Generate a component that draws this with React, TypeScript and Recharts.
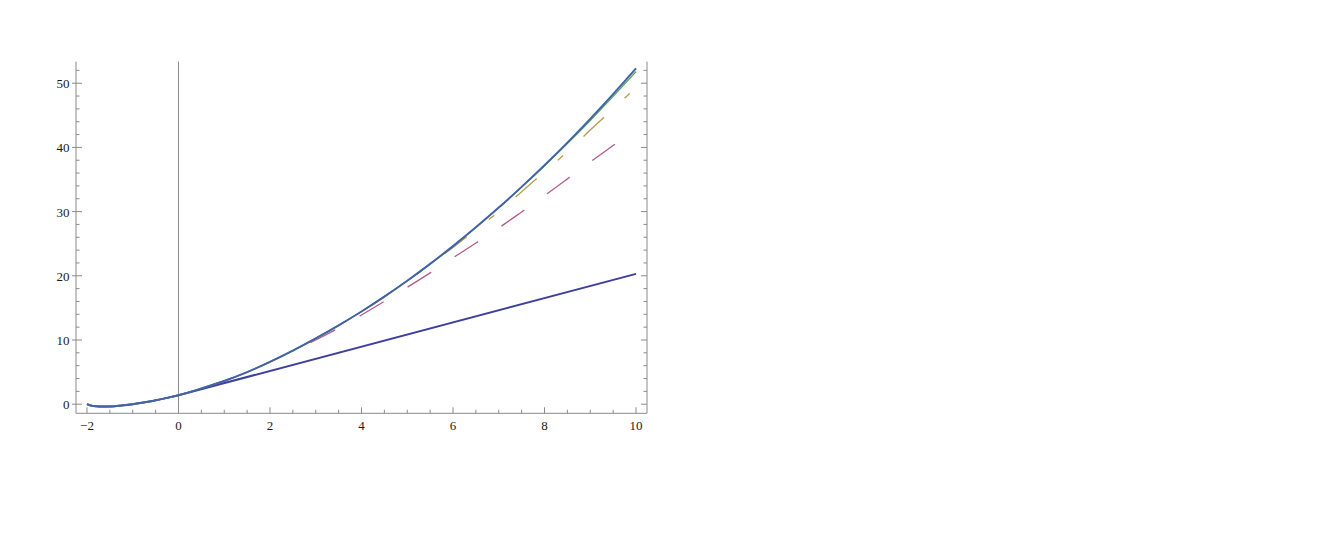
import React from 'react';
import { LineChart, Line, XAxis, YAxis, ReferenceLine } from 'recharts';

// x grid on which the curves were read
const xValues = [
  -2, -1.9, -1.8, -1.7, -1.6, -1.5, -1.4, -1.3, -1.2, -1.1, -1, -0.8, -0.6, -0.4, -0.2, 0,
  0.5, 1, 1.5, 2, 2.5, 3, 3.5, 4, 4.5, 5, 5.5, 6, 6.5, 7, 7.5, 8, 8.5, 9, 9.5, 10,
];

// exact curve (drawn on top)
const exactValues = [
  0, -0.23, -0.32, -0.36, -0.37, -0.35, -0.31, -0.25, -0.18, -0.09, 0.0, 0.22, 0.47, 0.75, 1.06, 1.4,
  2.45, 3.62, 5.0, 6.6, 8.35, 10.25, 12.28, 14.44, 16.75, 19.22, 21.85, 24.62, 27.55, 30.62, 33.85, 37.22, 40.75, 44.45, 48.3, 52.3,
];

// first-order approximation (straight after x = 0)
const order1Values = [
  0, -0.23, -0.32, -0.36, -0.37, -0.35, -0.31, -0.25, -0.18, -0.09, 0.0, 0.22, 0.47, 0.75, 1.06, 1.4,
  null, null, null, null, null, null, null, null, null, null, null, null, null, null, null, null, null, null, null, 20.3,
];

// second-order approximation
const order2Values = [
  0, -0.23, -0.32, -0.36, -0.37, -0.35, -0.31, -0.25, -0.18, -0.09, 0.0, 0.22, 0.47, 0.75, 1.06, 1.4,
  2.45, 3.62, 5.0, 6.6, 8.3, 10.0, 11.85, 13.9, 16.02, 18.2, 20.45, 22.8, 25.1, 27.45, 29.95, 32.5, 35.1, 37.72, 40.3, 42.85,
];

// third-order approximation
const order3Values = [
  0, -0.23, -0.32, -0.36, -0.37, -0.35, -0.31, -0.25, -0.18, -0.09, 0.0, 0.22, 0.47, 0.75, 1.06, 1.4,
  2.45, 3.62, 5.0, 6.6, 8.35, 10.25, 12.28, 14.44, 16.75, 19.2, 21.75, 24.42, 27.18, 30.0, 33.1, 36.2, 39.35, 42.7, 46.0, 49.3,
];

// fourth-order approximation
const order4Values = [
  0, -0.23, -0.32, -0.36, -0.37, -0.35, -0.31, -0.25, -0.18, -0.09, 0.0, 0.22, 0.47, 0.75, 1.06, 1.4,
  2.45, 3.62, 5.0, 6.6, 8.35, 10.25, 12.28, 14.44, 16.75, 19.22, 21.85, 24.62, 27.55, 30.62, 33.85, 37.15, 40.6, 44.2, 47.95, 51.8,
];

const xMajorTicks = [-2, 0, 2, 4, 6, 8, 10];
const xAllTicks = [-2, -1.5, -1, -0.5, 0, 0.5, 1, 1.5, 2, 2.5, 3, 3.5, 4, 4.5, 5, 5.5, 6, 6.5, 7, 7.5, 8, 8.5, 9, 9.5, 10];
const yMajorTicks = [0, 10, 20, 30, 40, 50];
const yAllTicks = [0, 2, 4, 6, 8, 10, 12, 14, 16, 18, 20, 22, 24, 26, 28, 30, 32, 34, 36, 38, 40, 42, 44, 46, 48, 50, 52];

const data = xValues.map((x, i) => ({
  x,
  exact: exactValues[i],
  o1: order1Values[i],
  o2: order2Values[i],
  o3: order3Values[i],
  o4: order4Values[i],
}));

const frameColor = '#8a8a8a';
const labelColor = '#1a1a1a';
const fontFamily = '"Liberation Serif", "Times New Roman", serif';
const MAJOR = 6;
const MINOR = 3.5;

const fmt = (v: number) => (v < 0 ? '\u2212' + Math.abs(v) : String(v));

const BottomTick = (props: any) => {
  const { x, y, payload } = props;
  const major = xMajorTicks.includes(payload.value);
  return (
    <g>
      <line x1={x} x2={x} y1={y} y2={y - (major ? MAJOR : MINOR)} stroke={frameColor} strokeWidth={1} />
      {major && (
        <text x={x} y={y + 17} textAnchor="middle" fontSize={13} fontFamily={fontFamily} fill={labelColor}>
          {fmt(payload.value)}
        </text>
      )}
    </g>
  );
};

const TopTick = (props: any) => {
  const { x, y, payload } = props;
  const major = xMajorTicks.includes(payload.value);
  return <line x1={x} x2={x} y1={y} y2={y + (major ? MAJOR : MINOR)} stroke={frameColor} strokeWidth={1} />;
};

const LeftTick = (props: any) => {
  const { x, y, payload } = props;
  const major = yMajorTicks.includes(payload.value);
  return (
    <g>
      <line x1={major ? x - 4 : x} x2={x + (major ? MAJOR : MINOR)} y1={y} y2={y} stroke={frameColor} strokeWidth={1} />
      {major && (
        <text x={x - 6.5} y={y + 5} textAnchor="end" fontSize={13} fontFamily={fontFamily} fill={labelColor}>
          {fmt(payload.value)}
        </text>
      )}
    </g>
  );
};

const RightTick = (props: any) => {
  const { x, y, payload } = props;
  const major = yMajorTicks.includes(payload.value);
  return <line x1={x} x2={x - (major ? MAJOR : MINOR)} y1={y} y2={y} stroke={frameColor} strokeWidth={1} />;
};

export default function App() {
  return (
    <div style={{ width: 700, height: 440 }}>
      <LineChart
        width={700}
        height={440}
        data={data}
        margin={{ top: 53.7, right: 1, bottom: 4.7, left: 8 }}
      >
        <XAxis
          xAxisId="b"
          dataKey="x"
          type="number"
          domain={[-2.24, 10.24]}
          allowDataOverflow
          ticks={xAllTicks}
          interval={0}
          tickSize={0}
          tickMargin={0}
          tickLine={false}
          height={30}
          axisLine={{ stroke: frameColor }}
          tick={<BottomTick />}
        />
        <XAxis
          xAxisId="t"
          orientation="top"
          dataKey="x"
          type="number"
          domain={[-2.24, 10.24]}
          allowDataOverflow
          ticks={xAllTicks}
          interval={0}
          tickSize={0}
          tickMargin={0}
          tickLine={false}
          height={0}
          axisLine={{ stroke: frameColor }}
          tick={<TopTick />}
        />
        <YAxis
          yAxisId="l"
          type="number"
          domain={[-1.42, 53.35]}
          allowDataOverflow
          ticks={yAllTicks}
          interval={0}
          tickSize={0}
          tickMargin={0}
          tickLine={false}
          width={60}
          axisLine={{ stroke: frameColor }}
          tick={<LeftTick />}
        />
        <YAxis
          yAxisId="r"
          orientation="right"
          type="number"
          domain={[-1.42, 53.35]}
          allowDataOverflow
          ticks={yAllTicks}
          interval={0}
          tickSize={0}
          tickMargin={0}
          tickLine={false}
          width={60}
          axisLine={{ stroke: frameColor }}
          tick={<RightTick />}
        />
        <ReferenceLine xAxisId="b" yAxisId="l" x={0} stroke={frameColor} strokeWidth={1} />
        <Line xAxisId="b" yAxisId="l" dataKey="o1" type="linear" connectNulls stroke="#3f3f9e" strokeWidth={2} dot={false} isAnimationActive={false} />
        <Line xAxisId="b" yAxisId="l" dataKey="o2" type="monotone" stroke="#b55a8e" strokeWidth={1.3} strokeDasharray="28 28" strokeDashoffset={45} dot={false} isAnimationActive={false} />
        <Line xAxisId="b" yAxisId="l" dataKey="o3" type="monotone" stroke="#b59c4a" strokeWidth={1.3} strokeDasharray="28 28 7 28" strokeDashoffset={59} dot={false} isAnimationActive={false} />
        <Line xAxisId="b" yAxisId="l" dataKey="o4" type="monotone" stroke="#4ea865" strokeWidth={1.3} dot={false} isAnimationActive={false} />
        <Line xAxisId="b" yAxisId="l" dataKey="exact" type="monotone" stroke="#4263a6" strokeWidth={2} dot={false} isAnimationActive={false} />
      </LineChart>
    </div>
  );
}
